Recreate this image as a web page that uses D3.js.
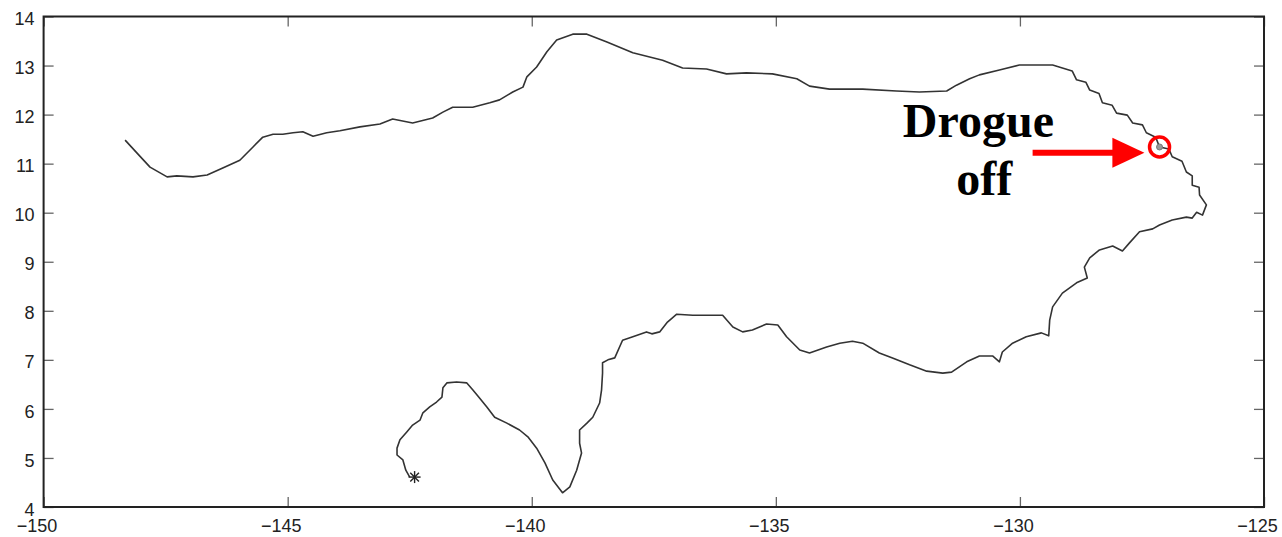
<!DOCTYPE html>
<html>
<head>
<meta charset="utf-8">
<script src="https://cdn.jsdelivr.net/npm/d3@7/dist/d3.min.js"></script>
<style>
  html, body { margin: 0; padding: 0; background: #fff; }
  svg { display: block; }
</style>
</head>
<body>
<svg id="chart" width="1282" height="537"></svg>
<script>
// ---- Data ----
const xTicks = [-150, -145, -140, -135, -130, -125];
const yTicks = [4, 5, 6, 7, 8, 9, 10, 11, 12, 13, 14];

// drifter track, longitude (deg E) and latitude (deg N), starting at the '*' marker
const trackLon = [
  -142.50,-142.58,-142.64,-142.76,-142.76,-142.70,-142.56,-142.44,-142.29,-142.23,
  -142.09,-141.95,-141.84,-141.82,-141.74,-141.54,-141.33,-141.21,-141.07,-140.92,
  -140.76,-140.51,-140.25,-140.08,-139.90,-139.73,-139.57,-139.37,-139.22,-139.08,
  -138.98,-139.02,-139.02,-138.87,-138.75,-138.61,-138.57,-138.55,-138.55,-138.44,
  -138.30,-138.14,-137.93,-137.65,-137.54,-137.38,-137.22,-137.03,-136.70,-136.36,
  -136.09,-135.88,-135.68,-135.48,-135.19,-134.96,-134.78,-134.51,-134.31,-133.96,
  -133.69,-133.43,-133.22,-132.88,-132.61,-132.26,-131.91,-131.58,-131.40,-131.09,
  -130.83,-130.56,-130.42,-130.36,-130.15,-129.87,-129.56,-129.41,-129.39,-129.33,
  -129.13,-128.84,-128.62,-128.68,-128.57,-128.37,-128.10,-127.90,-127.76,-127.55,
  -127.28,-127.14,-126.88,-126.59,-126.47,-126.38,-126.26,-126.18,-126.32,
  -126.33,-126.47,-126.47,-126.59,-126.68,-126.88,-126.95,-127.14,-127.22,-127.41,
  -127.49,-127.69,-127.80,-128.02,-128.11,-128.31,-128.38,-128.57,-128.65,-128.84,
  -128.93,-129.13,
  -129.33,-129.66,-130.01,-130.42,-130.83,-131.03,-131.30,-131.50,-132.06,-132.53,
  -133.22,-133.90,-134.31,-134.57,-135.07,-135.60,-136.01,-136.42,-136.91,-137.32,
  -137.93,-138.46,-138.87,-139.16,-139.49,-139.69,-139.90,-140.10,-140.18,-140.39,
  -140.66,-140.86,-141.21,-141.62,-141.82,-142.03,-142.44,-142.85,-143.11,-143.52,
  -143.93,-144.20,-144.48,-144.69,-144.89,-145.10,-145.30,-145.51,-145.71,-145.98,
  -146.33,-146.65,-146.94,-147.27,-147.47,-147.82,-148.09,-148.33
];
const trackLat = [
  4.61,4.75,4.96,5.06,5.20,5.37,5.53,5.67,5.77,5.92,
  6.04,6.14,6.24,6.43,6.53,6.55,6.53,6.39,6.22,6.04,
  5.83,5.71,5.57,5.43,5.20,4.90,4.55,4.29,4.41,4.75,
  5.10,5.30,5.57,5.71,5.83,6.12,6.39,6.73,6.94,7.00,
  7.04,7.40,7.47,7.57,7.53,7.57,7.77,7.93,7.91,7.91,
  7.91,7.67,7.57,7.61,7.73,7.71,7.47,7.20,7.14,7.26,
  7.34,7.38,7.34,7.14,7.04,6.90,6.77,6.73,6.75,6.96,
  7.08,7.08,6.96,7.16,7.34,7.47,7.55,7.49,7.81,8.08,
  8.36,8.57,8.67,8.89,9.08,9.24,9.32,9.22,9.38,9.61,
  9.67,9.75,9.85,9.91,9.89,10.01,9.95,10.16,10.36,
  10.52,10.56,10.75,10.83,11.05,11.14,11.30,11.34,11.54,11.63,
  11.79,11.83,11.99,12.03,12.19,12.24,12.43,12.50,12.66,12.71,
  12.89,12.95,
  13.01,13.01,13.01,12.91,12.81,12.73,12.60,12.48,12.46,12.48,
  12.52,12.52,12.58,12.73,12.83,12.85,12.83,12.93,12.95,13.11,
  13.26,13.48,13.64,13.64,13.52,13.28,12.97,12.77,12.56,12.46,
  12.30,12.24,12.15,12.15,12.05,11.93,11.83,11.91,11.81,11.75,
  11.67,11.63,11.56,11.65,11.63,11.60,11.60,11.54,11.34,11.07,
  10.91,10.77,10.73,10.75,10.73,10.93,11.22,11.48
];

// annotation
const startPoint = [-142.40, 4.61];
const drogueOff = [-127.14, 11.34];
const arrowFrom = [-129.74, 11.22];
const arrowTip  = [-127.45, 11.22];
const labelLines = ["Drogue", "off"];
const labelPos = [[-130.85, 11.54], [-130.73, 10.36]];

// ---- Layout ----
const svg = d3.select("#chart");
const X0 = 43.6, X1 = 1264, Y0 = 507, Y1 = 16.5;
const x = d3.scaleLinear().domain([-150, -125]).range([X0, X1]);
const y = d3.scaleLinear().domain([4, 14]).range([Y0, Y1]);

const fmt = d => (d < 0 ? "\u2212" + Math.abs(d) : String(d));

// axes with inward ticks
const axisStyle = g => {
  g.select(".domain").remove();
  g.selectAll(".tick line").attr("stroke", "#666").attr("stroke-width", 1.3);
  g.selectAll(".tick text").attr("fill", "#222")
    .style("font-family", "'Liberation Sans', Arial, Helvetica, sans-serif")
    .style("font-size", "18px");
};

svg.append("g").attr("transform", `translate(${X0},0)`)
  .call(d3.axisLeft(y).tickValues(yTicks).tickSize(-10).tickPadding(9).tickFormat(fmt))
  .call(axisStyle)
  .call(g => g.selectAll(".tick text").attr("dy", "0.45em"));

svg.append("g").attr("transform", `translate(${X1},0)`)
  .call(d3.axisRight(y).tickValues(yTicks).tickSize(-10).tickFormat(""))
  .call(axisStyle);

svg.append("g").attr("transform", `translate(0,${Y0})`)
  .call(d3.axisBottom(x).tickValues(xTicks).tickSize(-10).tickPadding(12).tickFormat(fmt))
  .call(axisStyle)
  .call(g => g.selectAll(".tick text").attr("dx", "-7"));

svg.append("g").attr("transform", `translate(0,${Y1})`)
  .call(d3.axisTop(x).tickValues(xTicks).tickSize(-10).tickFormat(""))
  .call(axisStyle);

// frame
svg.append("rect")
  .attr("x", X0).attr("y", Y1)
  .attr("width", X1 - X0).attr("height", Y0 - Y1)
  .attr("fill", "none").attr("stroke", "#222").attr("stroke-width", 2);

// track
const track = trackLon.map((lon, i) => [lon, trackLat[i]]);
svg.append("path")
  .datum(track)
  .attr("fill", "none")
  .attr("stroke", "#333")
  .attr("stroke-width", 1.6)
  .attr("stroke-linejoin", "round")
  .attr("d", d3.line().x(d => x(d[0])).y(d => y(d[1])));

// start marker '*'
{
  const cx = x(startPoint[0]), cy = y(startPoint[1]), r = 6;
  const g = svg.append("g").attr("stroke", "#222").attr("stroke-width", 1.4);
  [[0, r], [r, 0], [r * 0.72, r * 0.72], [r * 0.72, -r * 0.72]].forEach(([dx, dy]) => {
    g.append("line").attr("x1", cx - dx).attr("y1", cy - dy).attr("x2", cx + dx).attr("y2", cy + dy);
  });
}

// drogue-off marker
svg.append("circle")
  .attr("cx", x(drogueOff[0])).attr("cy", y(drogueOff[1])).attr("r", 3)
  .attr("fill", "#999").attr("stroke", "#777").attr("stroke-width", 1);
svg.append("circle")
  .attr("cx", x(drogueOff[0])).attr("cy", y(drogueOff[1])).attr("r", 10)
  .attr("fill", "none").attr("stroke", "#ff0000").attr("stroke-width", 3.5);

// arrow
{
  const ax0 = x(arrowFrom[0]), ay = y(arrowFrom[1]), tip = x(arrowTip[0]);
  const headLen = 32, headHalf = 15;
  svg.append("line")
    .attr("x1", ax0).attr("y1", ay).attr("x2", tip - headLen + 2).attr("y2", ay)
    .attr("stroke", "#ff0000").attr("stroke-width", 6);
  svg.append("path")
    .attr("d", `M${tip},${ay} L${tip - headLen},${ay - headHalf} L${tip - headLen},${ay + headHalf} Z`)
    .attr("fill", "#ff0000");
}

// label
svg.selectAll("text.lab").data(labelLines).enter().append("text")
  .attr("class", "lab")
  .attr("x", (d, i) => x(labelPos[i][0]))
  .attr("y", (d, i) => y(labelPos[i][1]))
  .attr("text-anchor", "middle")
  .style("font-family", "'Liberation Serif', 'Times New Roman', serif")
  .style("font-weight", "bold")
  .style("font-size", "48px")
  .attr("fill", "#000")
  .text(d => d);
</script>
</body>
</html>
